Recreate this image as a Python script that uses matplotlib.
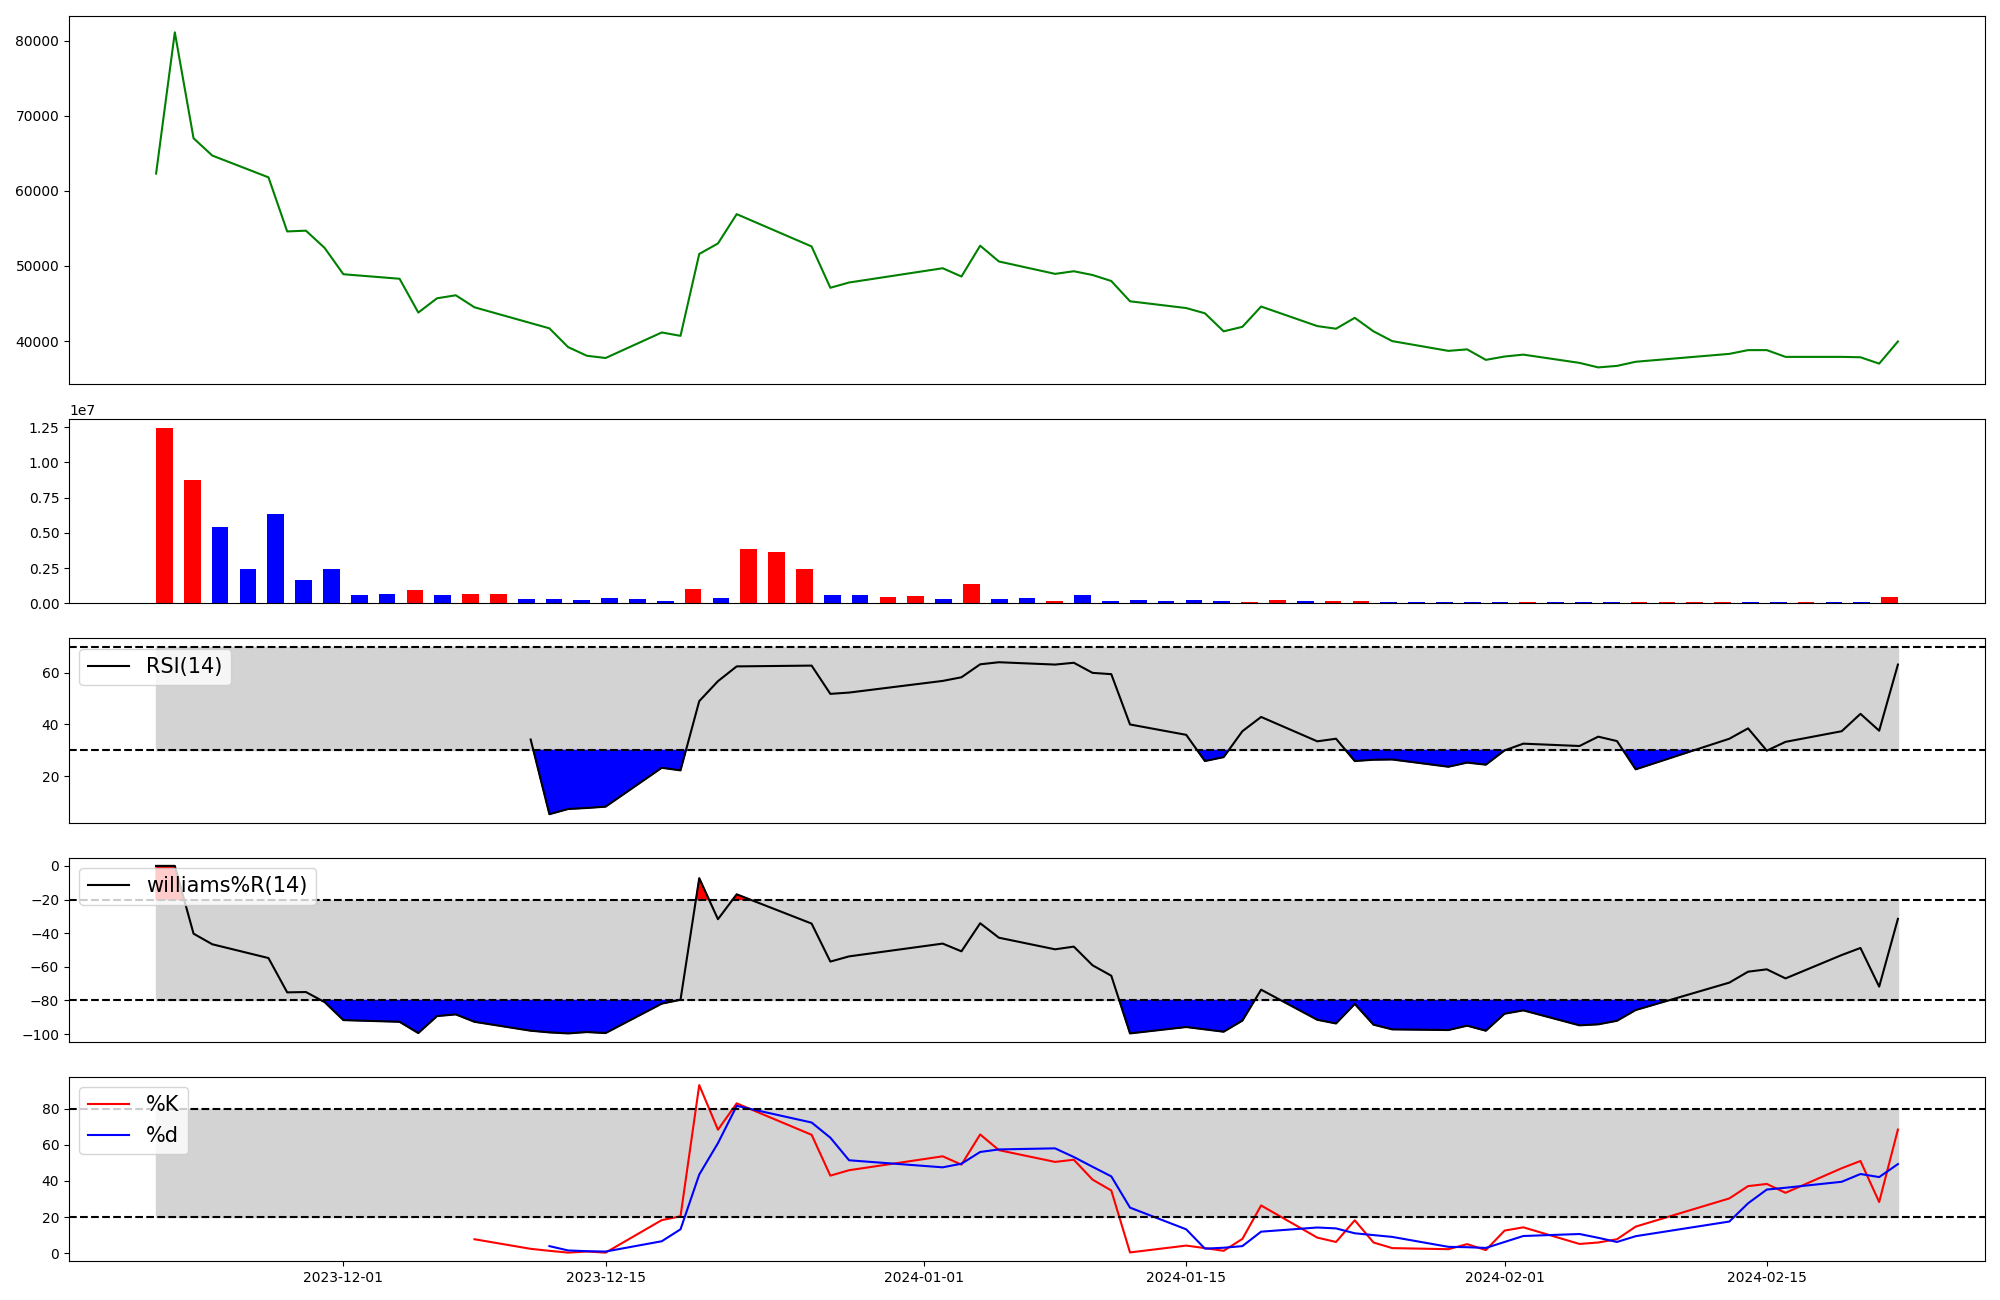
import matplotlib
matplotlib.use("Agg")
import matplotlib.pyplot as plt
import numpy as np
import pandas as pd

# trading days (KRX), 2023-11-21 .. 2024-02-22
holidays = ["2023-12-25", "2023-12-29", "2024-01-01", "2024-02-09", "2024-02-12"]
dates = pd.bdate_range("2023-11-21", "2024-02-22")
dates = dates[~dates.isin(pd.to_datetime(holidays))].to_pydatetime()

close = [62300, 81100, 67000, 64700, 61800, 54600, 54700, 52400, 48900, 48300,
         43800, 45700, 46100, 44500, 42400, 41700, 39200, 38050, 37750, 41150,
         40700, 51600, 53000, 56900, 52600, 47100, 47800, 49700, 48600, 52700,
         50600, 48950, 49300, 48800, 48000, 45300, 44400, 43700, 41300, 41900,
         44600, 42000, 41650, 43100, 41300, 40000, 38700, 38900, 37500, 37950,
         38200, 37100, 36500, 36700, 37250, 38300, 38800, 38800, 37900, 37900,
         37850, 37000, 39950]

# volume in millions of shares
volume_m = [12.45, 8.78, 5.43, 2.43, 6.31, 1.67, 2.43, 0.57, 0.64, 0.93,
            0.57, 0.64, 0.64, 0.29, 0.29, 0.21, 0.36, 0.29, 0.14, 1.00,
            0.36, 3.86, 3.64, 2.43, 0.57, 0.57, 0.43, 0.50, 0.29, 1.36,
            0.29, 0.36, 0.14, 0.57, 0.14, 0.21, 0.14, 0.21, 0.14, 0.07,
            0.21, 0.14, 0.14, 0.14, 0.07, 0.07, 0.07, 0.07, 0.07, 0.07,
            0.07, 0.07, 0.07, 0.07, 0.07, 0.07, 0.07, 0.07, 0.07, 0.07,
            0.07, 0.07, 0.43]
vol_colors = list("rrbbbbbbbrbrrbbbbbbrbrrrbbrrbrbbrbbbbbbrrbrrbbbbbrbbbrrrrbbrbbr")

rsi = [None] * 14 + [
    34.2, 5.4, 7.4, 7.8, 8.3, 23.3, 22.3, 49.0, 56.7, 62.4,
    62.7, 51.8, 52.3, 56.8, 58.2, 63.2, 64.0, 63.1, 63.8, 59.9,
    59.4, 40.0, 36.0, 25.9, 27.4, 37.4, 42.9, 33.5, 34.5, 25.9,
    26.4, 26.5, 23.7, 25.3, 24.5, 30.0, 32.6, 31.7, 35.3, 33.6,
    22.7, 34.5, 38.5, 29.9, 33.3, 37.4, 44.1, 37.6, 63.1]

williams = [0, 0, -40.3, -46.6, -54.8, -75.2, -75.0, -81.0, -91.7, -92.7,
            -99.4, -89.3, -88.3, -92.7, -98.0, -99.0, -99.6, -98.8, -99.4, -81.9,
            -79.6, -7.3, -31.7, -16.9, -34.3, -56.9, -53.8, -46.2, -50.8, -34.1,
            -42.7, -49.6, -48.0, -59.1, -65.3, -99.6, -95.8, -97.2, -98.6, -92.0,
            -73.6, -91.5, -93.7, -82.1, -94.4, -97.2, -97.6, -95.0, -98.0, -87.9,
            -85.9, -94.8, -94.2, -92.1, -85.7, -69.4, -62.9, -61.5, -66.9, -53.0,
            -48.8, -71.8, -31.5]

stoch_k = [None] * 13 + [
    7.7, 2.4, 1.3, 0.3, 0.9, 0.3, 18.3, 20.4, 93.0, 68.3,
    82.9, 65.5, 42.9, 45.9, 53.6, 49.0, 65.7, 57.0, 50.5, 51.7,
    40.7, 34.7, 0.4, 4.2, 2.8, 1.3, 7.9, 26.4, 8.6, 6.2,
    18.2, 5.9, 2.8, 2.2, 5.0, 1.7, 12.5, 14.3, 5.1, 5.9,
    7.7, 14.7, 30.3, 37.1, 38.3, 33.4, 47.0, 51.0, 28.3, 68.4]

stoch_d = [None] * 15 + [
    3.9, 1.5, 1.1, 0.9, 6.6, 13.2, 43.5, 60.9, 81.5, 72.3,
    63.9, 51.4, 47.5, 49.5, 56.0, 57.4, 58.0, 53.2, 47.8, 42.5,
    25.2, 13.2, 2.5, 3.0, 3.9, 11.9, 14.2, 13.7, 11.0, 10.0,
    9.0, 3.5, 3.3, 2.9, 6.2, 9.5, 10.6, 8.5, 6.2, 9.4,
    17.5, 27.6, 35.2, 36.2, 39.5, 43.8, 42.1, 49.3]

rsi = np.array(rsi, dtype=float)
williams = np.array(williams, dtype=float)
stoch_k = np.array(stoch_k, dtype=float)
stoch_d = np.array(stoch_d, dtype=float)
colors = ["red" if c == "r" else "blue" for c in vol_colors]

fig = plt.figure(figsize=(20, 13), dpi=100)
gs = fig.add_gridspec(5, 1, height_ratios=[2, 1, 1, 1, 1], left=0.0345, right=0.9925,
                      top=0.988, bottom=0.030, hspace=0.158)
ax1 = fig.add_subplot(gs[0])
ax2 = fig.add_subplot(gs[1])
ax3 = fig.add_subplot(gs[2])
ax4 = fig.add_subplot(gs[3])
ax5 = fig.add_subplot(gs[4])

# price
ax1.plot(dates, close, color="green")
ax1.set_xticks([])

# volume
ax2.bar(np.arange(len(volume_m)), np.array(volume_m) * 1e6, width=0.6, color=colors)
ax2.set_xticks([])

# RSI
ax3.fill_between(dates, 30, 70, color="lightgray")
ax3.plot(dates, rsi, color="black", label="RSI(14)")
ax3.fill_between(dates, rsi, 30, where=rsi < 30, color="blue", interpolate=True)
ax3.fill_between(dates, rsi, 70, where=rsi > 70, color="red", interpolate=True)
ax3.axhline(30, color="black", linestyle="--")
ax3.axhline(70, color="black", linestyle="--")
ax3.legend(loc="upper left", fontsize=15)
ax3.set_xticks([])

# Williams %R
ax4.fill_between(dates, -80, -20, color="lightgray")
ax4.plot(dates, williams, color="black", label="williams%R(14)")
ax4.fill_between(dates, williams, -80, where=williams < -80, color="blue", interpolate=True)
ax4.fill_between(dates, williams, -20, where=williams > -20, color="red", interpolate=True)
ax4.axhline(-20, color="black", linestyle="--")
ax4.axhline(-80, color="black", linestyle="--")
ax4.legend(loc="upper left", fontsize=15)
ax4.set_xticks([])

# Stochastic
ax5.fill_between(dates, 20, 80, color="lightgray")
ax5.plot(dates, stoch_k, color="red", label="%K")
ax5.plot(dates, stoch_d, color="blue", label="%d")
ax5.axhline(20, color="black", linestyle="--")
ax5.axhline(80, color="black", linestyle="--")
ax5.legend(loc="upper left", fontsize=15)

fig.savefig("out.png", dpi=100)
